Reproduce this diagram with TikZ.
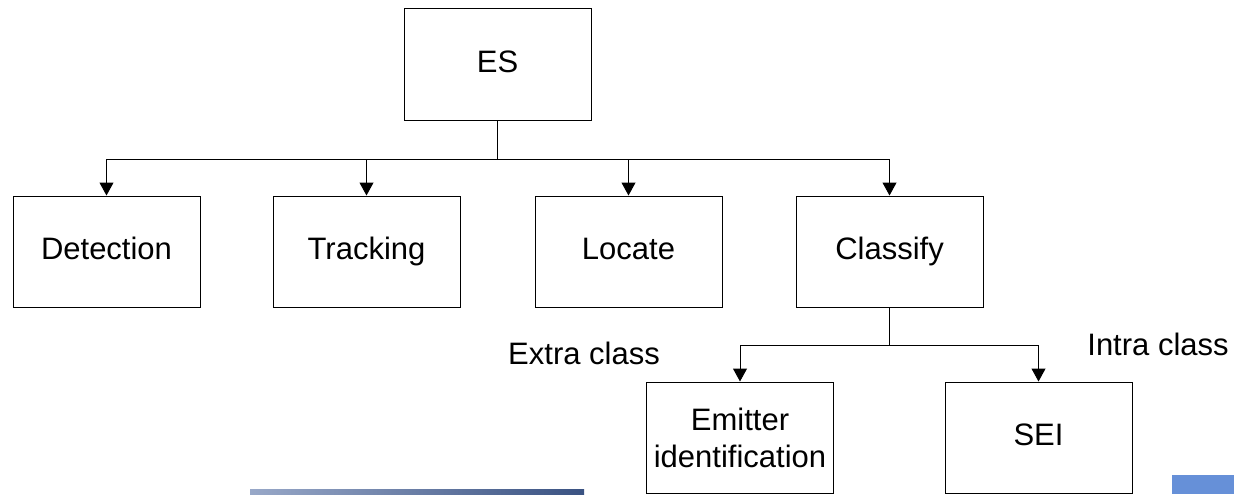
\documentclass[tikz,border=0pt]{standalone}
\usepackage{fontspec}
\setmainfont{Liberation Sans}
\usetikzlibrary{arrows.meta}

\definecolor{barlight}{RGB}{152,168,200}
\definecolor{barmid}{RGB}{120,138,190}
\definecolor{bardark}{RGB}{58,82,130}
\definecolor{cornblue}{RGB}{102,144,216}

\begin{document}
\begin{tikzpicture}[x=0.5pt,y=-0.5pt,
		box/.style={draw, line width=0.5pt, minimum width=93.5pt, minimum height=55.5pt,
			inner sep=0pt, align=center, text height=11pt, text depth=3pt,
			font=\fontsize{15.5}{18.5}\selectfont},
		lbl/.style={inner sep=0pt, font=\fontsize{15.5}{18.5}\selectfont},
		arr/.style={line width=0.5pt, -{Triangle[width=7pt,length=6.5pt]}}]
		\useasboundingbox (0,0) rectangle (1234,494);

		% top level
		\node[box, minimum height=56pt] (es) at (497.5,64) {ES};
		\node[box] (det) at (106.5,251.5) {Detection};
		\node[box] (trk) at (366.5,251.5) {Tracking};
		\node[box] (loc) at (628.5,251.5) {Locate};
		\node[box] (cls) at (889.5,251.5) {Classify};

		% second level
		\node[box, text height=, text depth=] (emi) at (740,437.5) {Emitter\\identification};
		\node[box] (sei) at (1038.5,437.5) {SEI};

		\node[lbl] (extra) at (584,353) {Extra class};
		\node[lbl] (intra) at (1158,344) {Intra class};

		\coordinate (esbus) at (497.5,159);
		\coordinate (clsbus) at (889.5,345);

		\draw[line width=0.5pt] (es.south) -- (esbus);
		\foreach \n in {det,trk,loc,cls}
			\draw[arr] (esbus) -| (\n.north);

		\draw[line width=0.5pt] (cls.south) -- (clsbus);
		\foreach \n in {emi,sei}
			\draw[arr] (clsbus) -| (\n.north);

		% bars at the bottom
		\shade[left color=barlight, middle color=barmid, right color=bardark]
			(250,489) rectangle (584,494);
		\fill[cornblue] (1172,475) rectangle (1234,494);
	\end{tikzpicture}
\end{document}
